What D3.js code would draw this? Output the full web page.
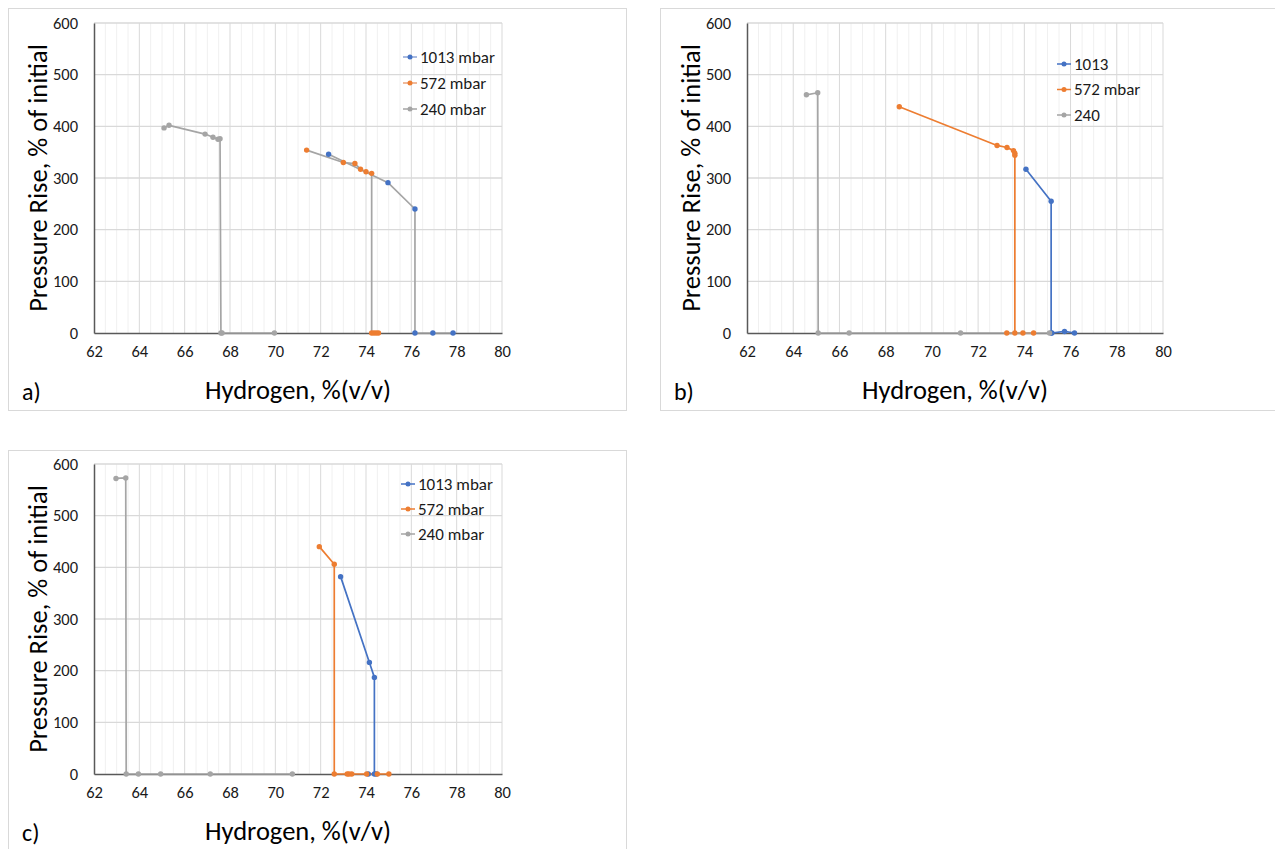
<!DOCTYPE html>
<html>
<head>
<meta charset="utf-8">
<script src="https://cdn.jsdelivr.net/npm/d3@7"></script>
<style>
  html, body { margin: 0; padding: 0; background: #fff; }
  svg { display: block; font-family: Carlito, Calibri, Lato, "Liberation Sans", sans-serif; }
</style>
</head>
<body>
<svg id="chart" width="1275" height="849"></svg>
<script>
// Axis ticks shared by the three panels
const xTicks = [62, 64, 66, 68, 70, 72, 74, 76, 78, 80];
const yTicks = [0, 100, 200, 300, 400, 500, 600];
const seriesColors = ["#4472C4", "#ED7D31", "#A5A5A5"];

// Panel a) – hydrogen %(v/v) and pressure rise (% of initial)
const aLabels = ["1013 mbar", "572 mbar", "240 mbar"];
const aH1013 = [72.35, 74.97, 76.16, 76.16, 76.95, 77.84];
const aP1013 = [346, 291, 240, 0, 0, 0];
const aH572 = [71.38, 73.0, 73.51, 73.76, 74.0, 74.25, 74.25, 74.35, 74.45, 74.55];
const aP572 = [354, 330, 328, 317, 312, 309, 0, 0, 0, 0];
const aH240 = [65.09, 65.31, 66.9, 67.25, 67.47, 67.56, 67.6, 67.65, 69.96];
const aP240 = [397, 402, 385, 379, 375, 376, 0, 0, 0];

// Panel b)
const bLabels = ["1013", "572 mbar", "240"];
const bH1013 = [74.07, 75.16, 75.16, 75.19, 75.74, 76.17];
const bP1013 = [317, 255, 0, 0, 3, 0];
const bH572 = [68.59, 72.82, 73.25, 73.53, 73.59, 73.59, 73.59, 73.24, 73.94, 74.4];
const bP572 = [438, 363, 359, 353, 348, 344, 0, 0, 0, 0];
const bH240 = [64.57, 65.06, 65.08, 66.42, 71.24, 75.09];
const bP240 = [461, 465, 0, 0, 0, 0];

// Panel c)
const cLabels = ["1013 mbar", "572 mbar", "240 mbar"];
const cH1013 = [72.88, 74.15, 74.37, 74.37, 74.1, 74.45];
const cP1013 = [382, 216, 187, 0, 0, 0];
const cH572 = [71.94, 72.6, 72.6, 73.17, 73.25, 73.37, 74.03, 74.5, 75.01];
const cP572 = [440, 406, 0, 0, 0, 0, 0, 0, 0];
const cH240 = [62.97, 63.4, 63.42, 63.96, 64.94, 67.13, 70.75];
const cP240 = [572, 573, 0, 0, 0, 0, 0];

const zip = (xs, ys) => xs.map((x, i) => [x, ys[i]]);

const panels = [
  {
    tag: "a)", frame: [8, 8, 618, 402], plot: [94, 502, 23, 333],
    legend: { x: 403, y: 57, dy: 26 }, labels: aLabels,
    series: [zip(aH1013, aP1013), zip(aH572, aP572), zip(aH240, aP240)],
    lineColors: ["#A5A5A5", "#A5A5A5", "#A5A5A5"],
    legendLineColors: ["#8ea5d6", "#eba37a", "#A5A5A5"]
  },
  {
    tag: "b)", frame: [660, 8, 630, 402], plot: [747, 1163, 23, 333],
    legend: { x: 1057, y: 64, dy: 25.5 }, labels: bLabels,
    series: [zip(bH1013, bP1013), zip(bH572, bP572), zip(bH240, bP240)],
    lineColors: seriesColors, legendLineColors: seriesColors
  },
  {
    tag: "c)", frame: [8, 450, 618, 410], plot: [94, 502, 464, 774],
    legend: { x: 401, y: 484, dy: 25 }, labels: cLabels,
    series: [zip(cH1013, cP1013), zip(cH572, cP572), zip(cH240, cP240)],
    lineColors: seriesColors, legendLineColors: seriesColors
  }
];

const svg = d3.select("#chart");

panels.forEach(p => {
  const g = svg.append("g");
  const [fx, fy, fw, fh] = p.frame;
  g.append("rect")
    .attr("x", fx + 0.5).attr("y", fy + 0.5)
    .attr("width", fw).attr("height", fh)
    .attr("fill", "#fff").attr("stroke", "#D9D9D9");

  const [x0, x1, y0, y1] = p.plot;
  const x = d3.scaleLinear().domain([62, 80]).range([x0, x1]);
  const y = d3.scaleLinear().domain([0, 600]).range([y1, y0]);

  // minor vertical gridlines every 0.5
  const minor = d3.range(62.5, 80.01, 0.5).filter(v => Math.abs(v / 2 - Math.round(v / 2)) > 1e-6);
  g.append("g").selectAll("line").data(minor).join("line")
    .attr("x1", d => x(d)).attr("x2", d => x(d))
    .attr("y1", y(0)).attr("y2", y(600))
    .attr("stroke", "#F0F0F0").attr("stroke-width", 1);

  // major gridlines
  g.append("g").selectAll("line").data(xTicks.slice(1)).join("line")
    .attr("x1", d => x(d)).attr("x2", d => x(d))
    .attr("y1", y(0)).attr("y2", y(600))
    .attr("stroke", "#D9D9D9").attr("stroke-width", 1);
  g.append("g").selectAll("line").data(yTicks.slice(1)).join("line")
    .attr("x1", x(62)).attr("x2", x(80))
    .attr("y1", d => y(d)).attr("y2", d => y(d))
    .attr("stroke", "#D9D9D9").attr("stroke-width", 1.3);

  // axes
  const xAxis = d3.axisBottom(x).tickValues(xTicks).tickSize(0).tickPadding(12);
  const yAxis = d3.axisLeft(y).tickValues(yTicks).tickSize(0).tickPadding(16);
  const gx = g.append("g").attr("transform", `translate(0,${y1})`).call(xAxis);
  const gy = g.append("g").attr("transform", `translate(${x0},0)`).call(yAxis);
  [gx, gy].forEach(a => {
    a.select(".domain").attr("stroke", "#595959").attr("stroke-width", 1.5);
    a.selectAll("text").attr("font-size", 16.5).attr("fill", "#1a1a1a")
      .style("font-family", "Carlito, Calibri, Lato, sans-serif");
  });
  gx.selectAll("text").attr("dy", "0.71em");

  // series lines and markers
  const line = d3.line().x(d => x(d[0])).y(d => y(d[1]));
  p.series.forEach((s, i) => {
    g.append("path").datum(s)
      .attr("d", line).attr("fill", "none")
      .attr("stroke", p.lineColors[i]).attr("stroke-width", 1.7)
      .attr("stroke-linejoin", "round");
  });
  p.series.forEach((s, i) => {
    g.append("g").selectAll("circle").data(s).join("circle")
      .attr("cx", d => x(d[0])).attr("cy", d => y(d[1]))
      .attr("r", 2.7).attr("fill", seriesColors[i]);
  });

  // legend
  const lg = g.append("g");
  p.labels.forEach((lab, i) => {
    const ly = p.legend.y + i * p.legend.dy;
    lg.append("line")
      .attr("x1", p.legend.x).attr("x2", p.legend.x + 14)
      .attr("y1", ly).attr("y2", ly)
      .attr("stroke", p.legendLineColors[i]).attr("stroke-width", 1.5);
    lg.append("circle").attr("cx", p.legend.x + 7).attr("cy", ly)
      .attr("r", 2.5).attr("fill", seriesColors[i]);
    lg.append("text").attr("x", p.legend.x + 17).attr("y", ly)
      .attr("dy", "0.35em").attr("font-size", 17).attr("fill", "#1a1a1a")
      .text(lab);
  });

  // axis titles
  g.append("text")
    .attr("transform", `translate(${x0 - 56},${(y0 + y1) / 2}) rotate(-90)`)
    .attr("text-anchor", "middle").attr("dy", "0.35em")
    .attr("font-size", 26.5).attr("fill", "#000")
    .text("Pressure Rise, % of initial");
  g.append("text")
    .attr("x", (x0 + x1) / 2).attr("y", y1 + 57)
    .attr("text-anchor", "middle").attr("dy", "0.35em")
    .attr("font-size", 26.5).attr("fill", "#000")
    .text("Hydrogen, %(v/v)");

  // panel tag
  g.append("text")
    .attr("x", fx + 14).attr("y", y1 + 59)
    .attr("dy", "0.35em").attr("font-size", 24).attr("fill", "#000")
    .text(p.tag);
});
</script>
</body>
</html>
